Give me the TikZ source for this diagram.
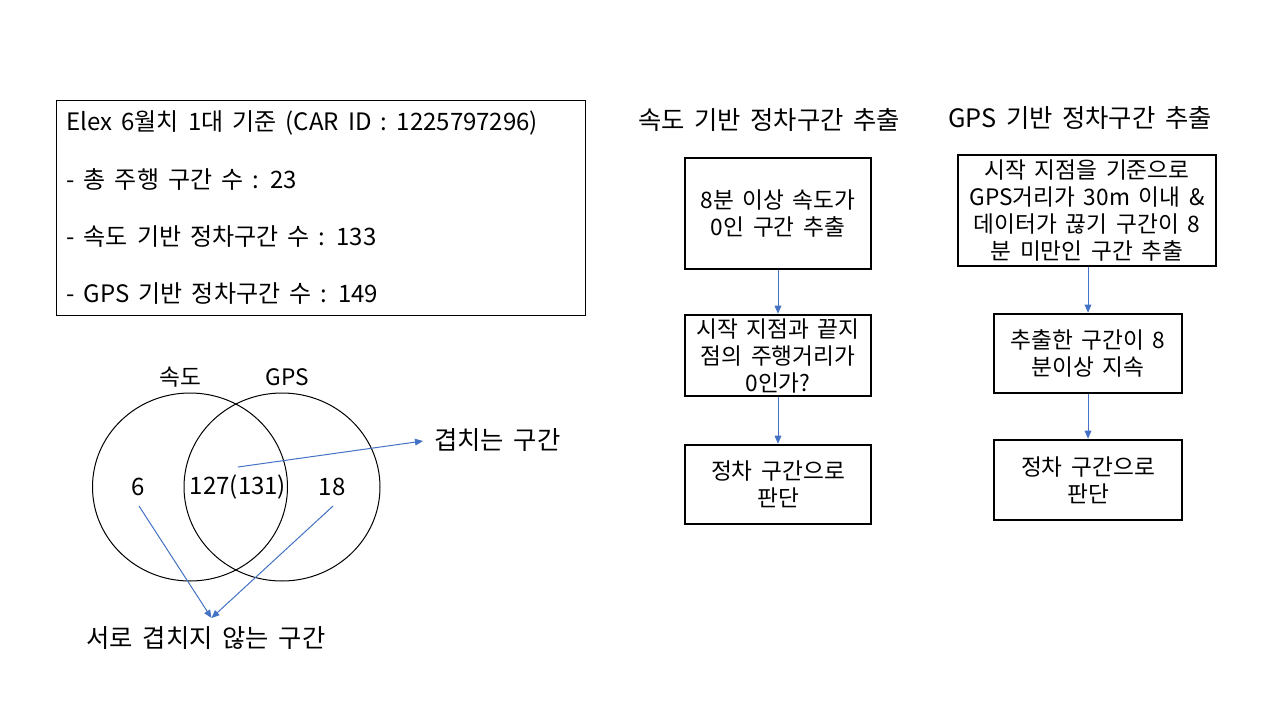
\documentclass[tikz,border=0pt]{standalone}
\usepackage{fontspec}
\setmainfont{Noto Sans CJK KR}[WordSpace=1.7]
\usetikzlibrary{arrows.meta,shapes.geometric}
\definecolor{arrblue}{HTML}{4472C4}
\begin{document}
\begin{tikzpicture}[x=0.75pt,y=-0.75pt,
  txt/.style={inner sep=0pt, font=\fontsize{17}{20.25}\selectfont},
  info/.style={inner sep=0pt, anchor=west, font=\fontsize{18}{21}\selectfont},
  big/.style={inner sep=0pt, font=\fontsize{19}{22}\selectfont},
  title/.style={inner sep=0pt, font=\fontsize{19}{22}\selectfont},
  fbox/.style={draw, line width=1.9pt, align=center, inner sep=0pt,
    font=\fontsize{17}{20.25}\selectfont},
  arr/.style={draw=arrblue, line width=0.75pt, -{Triangle[length=6pt,width=5pt]}},
  venn/.style={draw, ellipse, line width=0.75pt, inner sep=0pt}]
\useasboundingbox (0,0) rectangle (1280,720);
\fill[white] (0,0) rectangle (1280,720);
% info box
\node[draw, line width=0.75pt, minimum width=396.75pt, minimum height=160.5pt, inner sep=0pt] (infobox) at (320.5,208) {};
\node[info] (l1) at (66,123) {Elex 6월치 1대 기준 (CAR ID : 1225797296)};
\node[info] (l2) at (66,180) {- 총 주행 구간 수 : 23};
\node[info] (l3) at (66,237) {- 속도 기반 정차구간 수 : 133};
\node[info] (l4) at (66,294) {- GPS 기반 정차구간 수 : 149};
% venn
\node[venn, minimum width=146.25pt, minimum height=141pt] (vs) at (190,487) {};
\node[venn, minimum width=147pt, minimum height=141pt] (vg) at (282,487) {};
\node[txt] (ls) at (180,377) {속도};
\node[txt] (lg) at (287,377) {GPS};
\node[info, anchor=center] (n6) at (138,487) {6};
\node[info, anchor=center] (n127) at (238,487) {127(131)};
\node[info, anchor=center] (n18) at (332,487) {18};
\node[big, anchor=west] (over) at (434,440) {겹치는 구간};
\node[big] (nonover) at (206,638) {서로 겹치지 않는 구간};
\coordinate (c127) at (238,467);
\coordinate (c6) at (139,506);
\coordinate (c18) at (333,506);
\coordinate (cov) at (423,441);
\coordinate (cno) at (211.5,618);
\draw[arr] (c127) -- (cov);
\draw[arr] (c6) -- (cno);
\draw[arr] (c18) -- (cno);
% flowchart titles
\node[title] (t1) at (769,120) {속도 기반 정차구간 추출};
\node[title] (t2) at (1080,118) {GPS 기반 정차구간 추출};
% speed flow
\node[fbox, minimum width=139.5pt, minimum height=83.25pt] (a1) at (778,213.5) {8분 이상 속도가\\0인 구간 추출};
\node[fbox, minimum width=139.5pt, minimum height=60.75pt] (a2) at (778,355.5) {시작 지점과 끝지\\점의 주행거리가\\0인가?};
\node[fbox, minimum width=139.5pt, minimum height=59.25pt] (a3) at (778,484.5) {정차 구간으로\\판단};
\draw[arr] (a1) -- (a2);
\draw[arr] (a2) -- (a3);
% gps flow
\node[fbox, minimum width=193.5pt, minimum height=83.25pt] (b1) at (1087,210.5) {시작 지점을 기준으로\\GPS거리가 30m 이내 \&\\데이터가 끊기 구간이 8\\분 미만인 구간 추출};
\node[fbox, minimum width=141pt, minimum height=59.25pt] (b2) at (1088,353.5) {추출한 구간이 8\\분이상 지속};
\node[fbox, minimum width=141pt, minimum height=60pt] (b3) at (1088,480) {정차 구간으로\\판단};
\draw[arr] (b1.south -| b2) -- (b2);
\draw[arr] (b2) -- (b3);
\end{tikzpicture}
\end{document}
